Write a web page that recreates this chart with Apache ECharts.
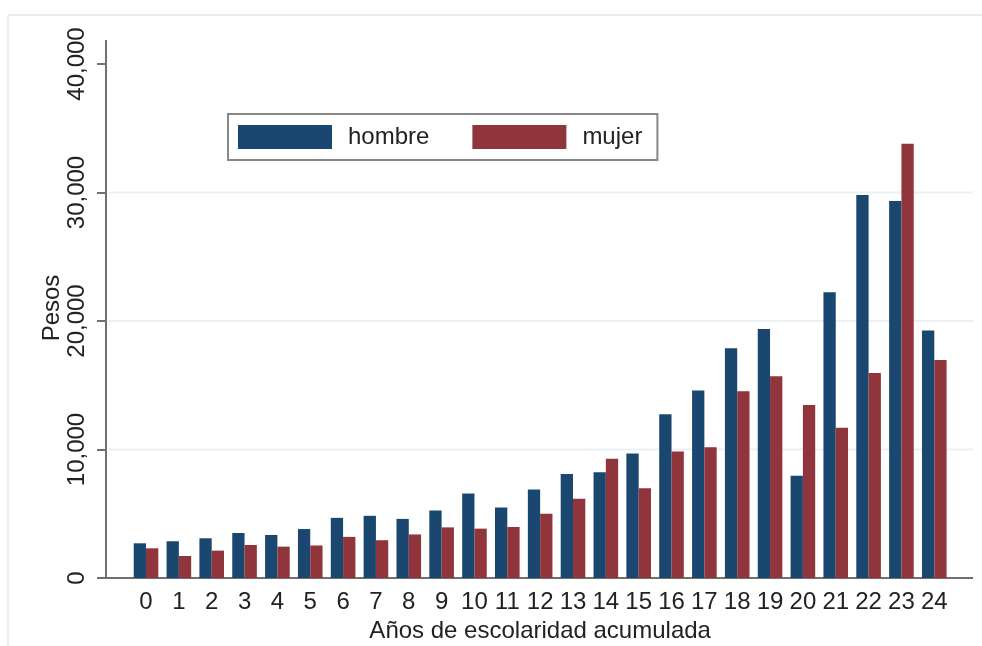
<!DOCTYPE html>
<html>
<head>
<meta charset="utf-8">
<script src="https://cdn.jsdelivr.net/npm/echarts@6/dist/echarts.min.js"></script>
<style>
  html, body { margin: 0; padding: 0; background: #fff; }
  #chart { width: 982px; height: 646px; }
</style>
</head>
<body>
<div id="chart"></div>
<script>
// años de escolaridad acumulada
const years = ['0', '1', '2', '3', '4', '5', '6', '7', '8', '9', '10', '11', '12',
  '13', '14', '15', '16', '17', '18', '19', '20', '21', '22', '23', '24'];
const hombre = [2700, 2860, 3090, 3500, 3350, 3810, 4680, 4840, 4600, 5250, 6580, 5490, 6890,
  8100, 8230, 9690, 12740, 14600, 17880, 19380, 7960, 22240, 29800, 29340, 19260];
const mujer = [2310, 1710, 2130, 2570, 2440, 2530, 3200, 2940, 3390, 3940, 3840, 3970, 5000,
  6170, 9280, 6980, 9840, 10170, 14530, 15700, 13460, 11700, 15950, 33800, 16960];
const yTicks = [0, 10000, 20000, 30000, 40000];

const font = 'Liberation Sans, Arial, Helvetica, sans-serif';
const ink = '#222';
const axisGray = '#707070';

const chart = echarts.init(document.getElementById('chart'));
chart.setOption({
  animation: false,
  textStyle: { fontFamily: font },
  grid: { left: 129.6, right: 31.3, top: 64, bottom: 68, containLabel: false, outerBoundsMode: 'none' },
  legend: {
    left: 228,
    top: 114,
    orient: 'horizontal',
    padding: [11, 15, 11, 10],
    itemGap: 43,
    itemWidth: 94,
    itemHeight: 24,
    icon: 'rect',
    borderColor: '#888',
    borderWidth: 2,
    borderRadius: 0,
    textStyle: { fontSize: 24, color: ink, fontFamily: font, padding: [0, 0, 0, 11] },
    data: ['hombre', 'mujer']
  },
  xAxis: {
    type: 'category',
    data: years,
    name: 'Años de escolaridad acumulada',
    nameLocation: 'middle',
    nameGap: 41,
    nameTextStyle: { fontSize: 24, color: ink, fontFamily: font },
    axisLine: { show: false },
    axisTick: { show: false },
    axisLabel: { interval: 0, fontSize: 24, color: ink, margin: 12, fontFamily: font }
  },
  yAxis: {
    type: 'value',
    min: yTicks[0],
    max: yTicks[yTicks.length - 1],
    interval: 10000,
    offset: 23.6,
    name: 'Pesos',
    nameLocation: 'middle',
    nameRotate: 90,
    nameGap: 42,
    nameMoveOverlap: false,
    nameTextStyle: { fontSize: 24, color: ink, fontFamily: font, padding: [0, 0, 0, 26] },
    axisLine: { show: true, lineStyle: { color: axisGray, width: 2 } },
    axisTick: { show: true, length: 9, lineStyle: { color: axisGray, width: 2 } },
    axisLabel: {
      rotate: 90,
      fontSize: 24,
      color: ink,
      margin: 17,
      fontFamily: font,
      formatter: v => v.toLocaleString('en-US')
    },
    splitLine: { show: false }
  },
  series: [
    {
      name: 'hombre',
      type: 'bar',
      data: hombre,
      barWidth: 12.3,
      barGap: '0%',
      itemStyle: { color: '#1a476f' }
    },
    {
      name: 'mujer',
      type: 'bar',
      data: mujer,
      barWidth: 12.3,
      barGap: '0%',
      itemStyle: { color: '#90353b' }
    }
  ]
});

// Stata-style frame, axis lines and light grid lines
const yPx = v => chart.convertToPixel({ yAxisIndex: 0 }, v);
const xLeft = 106, xRight = 973;
const base = yPx(0);
const graphics = [
  { type: 'line', shape: { x1: 8, y1: 15, x2: 982, y2: 15 }, style: { stroke: '#e4edf2', lineWidth: 2 } },
  { type: 'line', shape: { x1: 8, y1: 15, x2: 8, y2: 646 }, style: { stroke: '#e4edf2', lineWidth: 2 } },
  { type: 'line', shape: { x1: xLeft, y1: 40, x2: xLeft, y2: yPx(40000) }, style: { stroke: axisGray, lineWidth: 2 } },
  { type: 'line', shape: { x1: xLeft - 1, y1: base, x2: xRight, y2: base }, style: { stroke: axisGray, lineWidth: 2 } }
];
yTicks.slice(1, 4).forEach(t => {
  graphics.push({
    type: 'line',
    z: -1,
    shape: { x1: xLeft + 3, y1: yPx(t), x2: xRight, y2: yPx(t) },
    style: { stroke: '#e9f1f4', lineWidth: 2 }
  });
});
chart.setOption({ graphic: graphics });
</script>
</body>
</html>
